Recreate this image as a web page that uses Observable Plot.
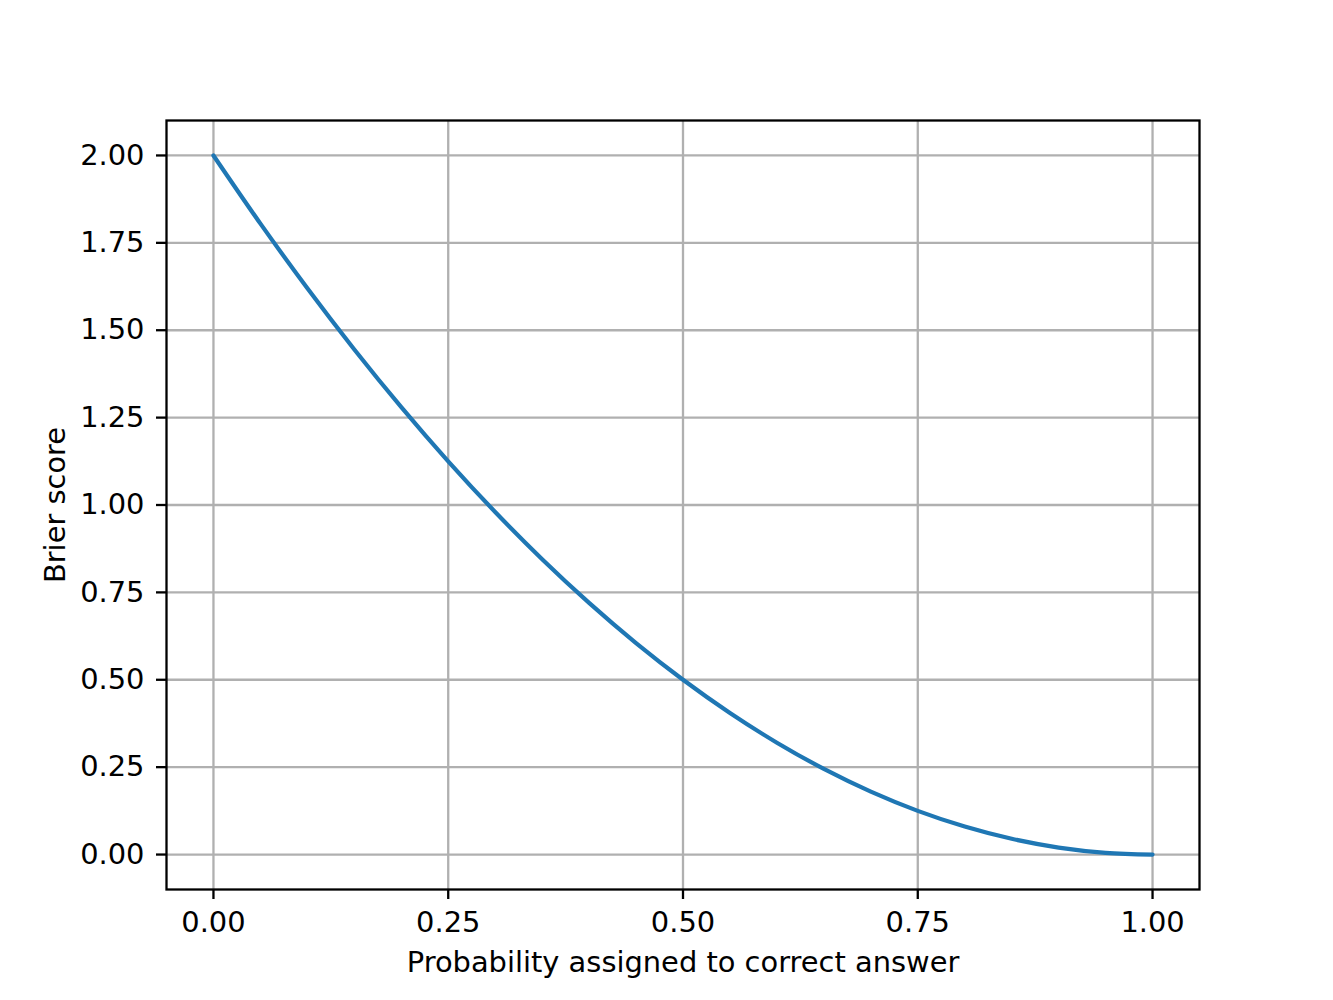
<!DOCTYPE html>
<html>
<head>
<meta charset="utf-8">
<script src="https://cdn.jsdelivr.net/npm/d3@7"></script>
<script src="https://cdn.jsdelivr.net/npm/@observablehq/plot@0.6"></script>
<style>
  html, body { margin: 0; padding: 0; background: #ffffff; }
  #chart svg { display: block; }
</style>
</head>
<body>
<div id="chart"></div>
<script>
// Probability assigned to correct answer (x) and Brier score (y)
const probability = [0, 0.05, 0.1, 0.15, 0.2, 0.25, 0.3, 0.35, 0.4, 0.45, 0.5,
  0.55, 0.6, 0.65, 0.7, 0.75, 0.8, 0.85, 0.9, 0.95, 1.0];
const brierScore = [2.0, 1.805, 1.62, 1.445, 1.28, 1.125, 0.98, 0.845, 0.72, 0.605, 0.5,
  0.405, 0.32, 0.245, 0.18, 0.125, 0.08, 0.045, 0.02, 0.005, 0.0];
const xTicks = [0, 0.25, 0.5, 0.75, 1.0];
const yTicks = [0, 0.25, 0.5, 0.75, 1.0, 1.25, 1.5, 1.75, 2.0];
const xLabel = "Probability assigned to correct answer";
const yLabel = "Brier score";

const data = probability.map((p, i) => ({p, score: brierScore[i]}));
const fmt = d3.format(".2f");
const FS = 28.9;

const chart = Plot.plot({
  width: 1333,
  height: 1000,
  marginLeft: 166,
  marginRight: 134,
  marginTop: 120,
  marginBottom: 111,
  style: {fontFamily: "DejaVu Sans", fontSize: FS + "px", color: "black", background: "white"},
  x: {domain: [-0.05, 1.05]},
  y: {domain: [-0.1, 2.1]},
  marks: [
    Plot.gridX(xTicks, {stroke: "#b0b0b0", strokeOpacity: 1, strokeWidth: 2.3}),
    Plot.gridY(yTicks, {stroke: "#b0b0b0", strokeOpacity: 1, strokeWidth: 2.3}),
    Plot.line(data, {x: "p", y: "score", stroke: "#1f77b4", strokeWidth: 4.2, curve: "catmull-rom"}),
    Plot.frame({stroke: "black", strokeWidth: 2.3}),
    Plot.axisX(xTicks, {tickFormat: fmt, tickSize: 10, tickPadding: 12, strokeWidth: 2.3, label: null, fontSize: FS}),
    Plot.axisY(yTicks, {tickFormat: fmt, tickSize: 10, tickPadding: 12, strokeWidth: 2.3, label: null, fontSize: FS}),
    Plot.text([xLabel], {frameAnchor: "bottom", dy: 73, lineAnchor: "middle", textAnchor: "middle", fontSize: FS, fill: "black"}),
    Plot.text([yLabel], {frameAnchor: "left", dx: -111, rotate: -90, lineAnchor: "middle", textAnchor: "middle", fontSize: FS, fill: "black"})
  ]
});
document.getElementById("chart").appendChild(chart);
</script>
</body>
</html>
